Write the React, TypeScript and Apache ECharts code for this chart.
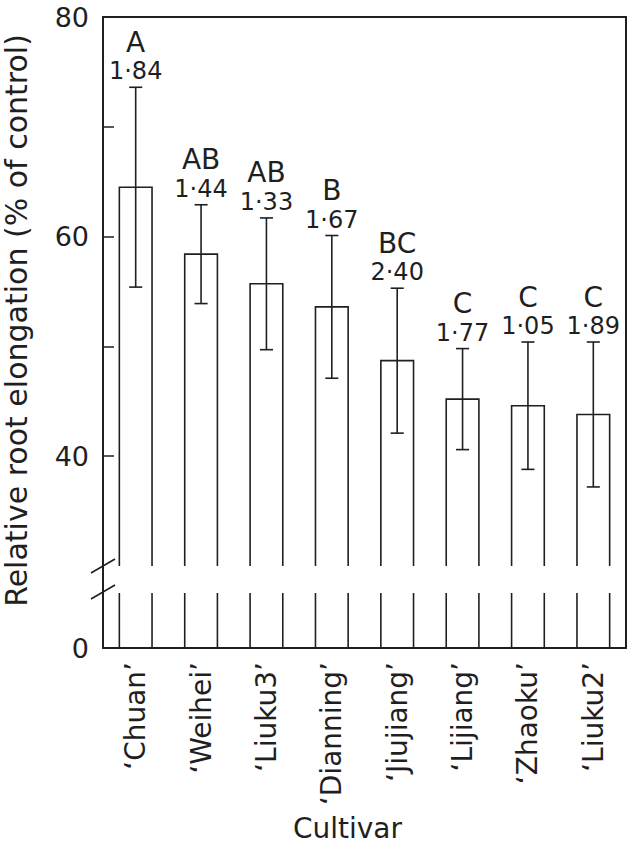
import React, { useEffect, useRef } from "react";
import * as echarts from "echarts";

const categories = ["‘Chuan’", "‘Weihei’", "‘Liuku3’", "‘Dianning’", "‘Jiujiang’", "‘Lijiang’", "‘Zhaoku’", "‘Liuku2’"];
const means = [64.5, 58.4, 55.7, 53.6, 48.7, 45.2, 44.6, 43.8];
const errors = [9.1, 4.5, 6.0, 6.5, 6.6, 4.6, 5.8, 6.6];
const groups = ["A", "AB", "AB", "B", "BC", "C", "C", "C"];
const ratios = ["1·84", "1·44", "1·33", "1·67", "2·40", "1·77", "1·05", "1·89"];
const upperTicks = [40, 50, 60, 70];
const upperLabels = [40, 60, 80];
const lowerLabels = [0];

const INK = "#1f1f1f";
const FONT = "'DejaVu Sans', 'Liberation Sans', Arial, sans-serif";
const L = 103;
const R = 2;
const TOP = 17;
const BREAK_TOP = 566;
const BREAK_BOTTOM = 593;
const BOTTOM = 648;

export default function App() {
  const ref = useRef<HTMLDivElement>(null);
  useEffect(() => {
    if (!ref.current) return;
    const chart = echarts.init(ref.current, null, { renderer: "svg" });
    const barData = means.map((m, i) => [i, m]);
    const errData = means.map((m, i) => [i, m, errors[i]]);
    const option: any = {
      animation: false,
      backgroundColor: "#fff",
      textStyle: { fontFamily: FONT, color: INK },
      grid: [
        { left: L, right: R, top: TOP, height: BREAK_TOP - TOP, outerBoundsMode: "none", containLabel: false },
        { left: L, right: R, top: BREAK_BOTTOM, height: BOTTOM - BREAK_BOTTOM, outerBoundsMode: "none", containLabel: false },
        { left: L, right: R, top: TOP, height: BOTTOM - TOP, outerBoundsMode: "none", containLabel: false },
      ],
      xAxis: [
        { gridIndex: 0, type: "category", data: categories, show: false },
        { gridIndex: 1, type: "category", data: categories, show: false },
        {
          gridIndex: 2,
          type: "category",
          data: categories,
          position: "bottom",
          axisLine: { onZero: false, lineStyle: { color: INK, width: 2 } },
          axisTick: { inside: true, length: 12, lineStyle: { color: INK, width: 1.5 } },
          axisLabel: { rotate: 90, margin: 14, fontSize: 28, color: INK, fontFamily: FONT },
          name: "Cultivar",
          nameLocation: "middle",
          nameGap: 166,
          nameTextStyle: { fontSize: 28, color: INK, fontFamily: FONT, padding: [0, 34, 0, 0] },
        },
        {
          gridIndex: 2,
          type: "category",
          data: categories,
          position: "top",
          axisLine: { onZero: false, lineStyle: { color: INK, width: 2 } },
          axisTick: { show: false },
          axisLabel: { show: false },
        },
      ],
      yAxis: [
        {
          gridIndex: 0,
          type: "value",
          min: 30,
          max: 80,
          axisLine: { show: false },
          axisTick: { show: true, inside: true, length: 11, customValues: upperTicks, lineStyle: { color: INK, width: 1.5 } },
          axisLabel: { customValues: upperLabels, margin: 14, fontSize: 27, color: INK, fontFamily: FONT },
          splitLine: { show: false },
        },
        {
          gridIndex: 1,
          type: "value",
          min: 0,
          max: 5,
          axisLine: { show: false },
          axisTick: { show: false },
          axisLabel: { customValues: lowerLabels, margin: 14, fontSize: 27, color: INK, fontFamily: FONT },
          splitLine: { show: false },
        },
        {
          gridIndex: 2,
          type: "value",
          min: 0,
          max: 1,
          position: "left",
          axisLine: { show: true, onZero: false, lineStyle: { color: INK, width: 2 } },
          axisTick: { show: false },
          axisLabel: { show: false },
          splitLine: { show: false },
          name: "Relative root elongation (% of control)",
          nameLocation: "middle",
          nameGap: 72,
          nameTextStyle: { fontSize: 30, lineHeight: 30, color: INK, fontFamily: FONT, padding: [0, 0, 0, 24] },
        },
        {
          gridIndex: 2,
          type: "value",
          min: 0,
          max: 1,
          position: "right",
          axisLine: { show: true, onZero: false, lineStyle: { color: INK, width: 2 } },
          axisTick: { show: false },
          axisLabel: { show: false },
          splitLine: { show: false },
        },
      ],
      graphic: [
        { type: "line", shape: { x1: L - 12, y1: BREAK_TOP + 7, x2: L + 12, y2: BREAK_TOP - 7 }, style: { stroke: INK, lineWidth: 1.6 } },
        { type: "line", shape: { x1: L - 12, y1: BREAK_BOTTOM + 6, x2: L + 12, y2: BREAK_BOTTOM - 8 }, style: { stroke: INK, lineWidth: 1.6 } },
      ],
      series: [
        {
          type: "custom",
          name: "bars-upper",
          xAxisIndex: 0,
          yAxisIndex: 0,
          data: barData,
          encode: { x: 0, y: 1 },
          renderItem: (params: any, api: any) => {
            const i = api.value(0);
            const top = api.coord([i, api.value(1)]);
            const cs = params.coordSys;
            const bottom = cs.y + cs.height;
            const w = api.size([1, 0])[0] * 0.5;
            const x0 = top[0] - w / 2;
            const x1 = top[0] + w / 2;
            return {
              type: "polyline",
              shape: { points: [[x0, bottom], [x0, top[1]], [x1, top[1]], [x1, bottom]] },
              style: { stroke: INK, lineWidth: 1.6, fill: "none" },
            };
          },
        },
        {
          type: "custom",
          name: "bars-lower",
          xAxisIndex: 1,
          yAxisIndex: 1,
          data: barData,
          encode: { x: 0, y: 1 },
          renderItem: (params: any, api: any) => {
            const i = api.value(0);
            const base = api.coord([i, 0]);
            const cs = params.coordSys;
            const w = api.size([1, 0])[0] * 0.5;
            const x0 = base[0] - w / 2;
            const x1 = base[0] + w / 2;
            return {
              type: "group",
              children: [
                { type: "line", shape: { x1: x0, y1: cs.y, x2: x0, y2: cs.y + cs.height }, style: { stroke: INK, lineWidth: 1.6 } },
                { type: "line", shape: { x1: x1, y1: cs.y, x2: x1, y2: cs.y + cs.height }, style: { stroke: INK, lineWidth: 1.6 } },
              ],
            };
          },
        },
        {
          type: "custom",
          name: "errors",
          xAxisIndex: 0,
          yAxisIndex: 0,
          data: errData,
          encode: { x: 0, y: 1 },
          renderItem: (params: any, api: any) => {
            const i = api.value(0);
            const m = api.value(1);
            const e = api.value(2);
            const hi = api.coord([i, m + e]);
            const lo = api.coord([i, m - e]);
            const cap = api.size([1, 0])[0] * 0.2;
            const x = hi[0];
            const ls = { stroke: INK, lineWidth: 1.6 };
            return {
              type: "group",
              children: [
                { type: "line", shape: { x1: x, y1: hi[1], x2: x, y2: lo[1] }, style: ls },
                { type: "line", shape: { x1: x - cap / 2, y1: hi[1], x2: x + cap / 2, y2: hi[1] }, style: ls },
                { type: "line", shape: { x1: x - cap / 2, y1: lo[1], x2: x + cap / 2, y2: lo[1] }, style: ls },
                {
                  type: "text",
                  x: x,
                  y: hi[1] - 16,
                  style: { text: ratios[i], fontSize: 24, fontFamily: FONT, fill: INK, align: "center", verticalAlign: "middle" },
                },
                {
                  type: "text",
                  x: x,
                  y: hi[1] - 45,
                  style: { text: groups[i], fontSize: 28, fontFamily: FONT, fill: INK, align: "center", verticalAlign: "middle" },
                },
              ],
            };
          },
        },
      ],
    };
    chart.setOption(option);
    return () => chart.dispose();
  }, []);
  return <div ref={ref} style={{ position: "absolute", left: 0, top: 0, width: 628, height: 844 }} />;
}
